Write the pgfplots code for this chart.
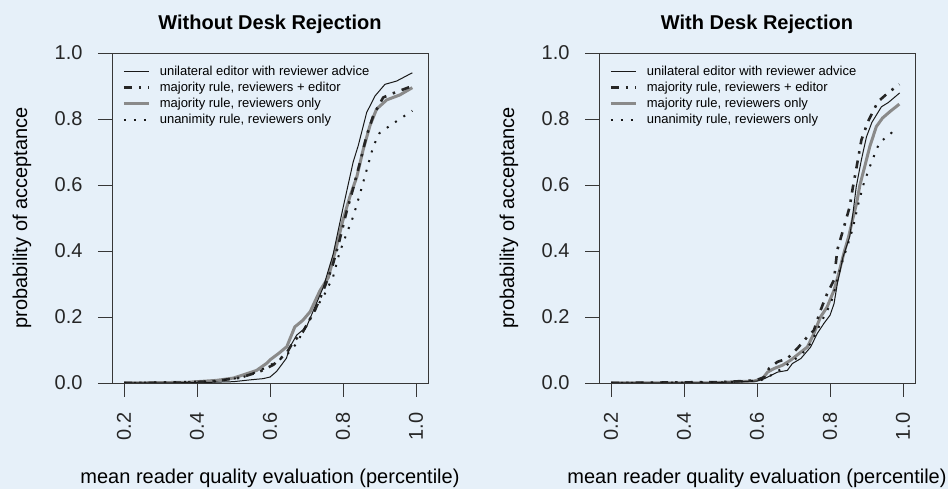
\documentclass[border=0pt]{standalone}
\usepackage{fontspec}
\setmainfont{Liberation Sans}
\usepackage{pgfplots}
\pgfplotsset{compat=1.18}
\usepackage{pgfplotstable}
\definecolor{bg}{RGB}{230,240,249}
\definecolor{axc}{RGB}{55,55,55}
\definecolor{grayl}{RGB}{138,138,138}

% ---------- Without desk rejection ----------
\pgfplotstableread{
x y
0.20 0
0.40 0.001
0.50 0.004
0.55 0.010
0.58 0.013
0.60 0.018
0.618 0.035
0.645 0.075
0.655 0.11
0.673 0.145
0.70 0.17
0.719 0.22
0.746 0.29
0.773 0.39
0.80 0.53
0.828 0.67
0.842 0.72
0.865 0.82
0.888 0.87
0.915 0.905
0.947 0.915
0.99 0.94
}\LuniA
\pgfplotstableread{
x y
0.20 0
0.36 0.001
0.45 0.006
0.518 0.016
0.573 0.035
0.609 0.055
0.645 0.09
0.664 0.125
0.69 0.155
0.723 0.22
0.746 0.28
0.77 0.35
0.79 0.43
0.81 0.52
0.828 0.59
0.847 0.67
0.865 0.75
0.883 0.81
0.91 0.865
0.93 0.875
0.99 0.90
}\LmajA
\pgfplotstableread{
x y
0.20 0
0.372 0.002
0.454 0.008
0.50 0.015
0.536 0.028
0.563 0.038
0.59 0.059
0.60 0.07
0.623 0.089
0.646 0.11
0.668 0.17
0.69 0.19
0.71 0.216
0.737 0.28
0.76 0.32
0.782 0.413
0.80 0.494
0.819 0.565
0.838 0.625
0.856 0.71
0.874 0.78
0.892 0.83
0.92 0.858
0.956 0.873
0.99 0.895
}\LmajB
\pgfplotstableread{
x y
0.20 0
0.454 0.005
0.527 0.018
0.573 0.038
0.609 0.059
0.645 0.084
0.673 0.12
0.70 0.175
0.728 0.23
0.75 0.27
0.773 0.322
0.79 0.393
0.81 0.453
0.828 0.504
0.847 0.575
0.865 0.646
0.883 0.717
0.90 0.757
0.929 0.78
0.956 0.80
0.99 0.825
}\LunaA

% ---------- With desk rejection ----------
\pgfplotstableread{
x y
0.20 0
0.46 0
0.60 0.006
0.62 0.013
0.638 0.023
0.656 0.033
0.683 0.038
0.697 0.059
0.72 0.074
0.747 0.109
0.765 0.15
0.783 0.18
0.80 0.205
0.811 0.24
0.82 0.30
0.836 0.383
0.854 0.443
0.863 0.515
0.872 0.595
0.886 0.676
0.90 0.746
0.915 0.79
0.941 0.837
0.96 0.85
0.991 0.879
}\RuniA
\pgfplotstableread{
x y
0.20 0
0.51 0.003
0.597 0.008
0.62 0.018
0.633 0.044
0.656 0.064
0.683 0.074
0.71 0.104
0.738 0.14
0.756 0.16
0.774 0.22
0.792 0.27
0.811 0.312
0.82 0.403
0.836 0.464
0.854 0.534
0.863 0.595
0.873 0.655
0.886 0.736
0.904 0.792
0.931 0.852
0.96 0.88
0.99 0.905
}\RmajA
\pgfplotstableread{
x y
0.20 0
0.46 0
0.592 0.006
0.615 0.013
0.629 0.033
0.647 0.044
0.67 0.054
0.692 0.069
0.715 0.089
0.738 0.109
0.756 0.15
0.774 0.2
0.792 0.23
0.811 0.281
0.824 0.332
0.838 0.393
0.851 0.443
0.863 0.5
0.873 0.545
0.882 0.6
0.895 0.655
0.909 0.716
0.927 0.777
0.944 0.803
0.965 0.823
0.99 0.845
}\RmajB
\pgfplotstableread{
x y
0.20 0
0.51 0.002
0.61 0.008
0.629 0.018
0.647 0.028
0.674 0.049
0.701 0.069
0.724 0.089
0.747 0.12
0.765 0.16
0.783 0.2
0.802 0.24
0.815 0.29
0.829 0.352
0.847 0.413
0.863 0.47
0.877 0.54
0.893 0.606
0.914 0.67
0.936 0.73
0.962 0.75
0.983 0.776
}\RunaA

\pgfplotsset{
  rstyle/.style={
    scale only axis, width=316pt, height=330pt,
    xmin=0.167, xmax=1.033, ymin=0, ymax=1,
    axis line style={axc, line width=0.9pt},
    tick style={axc, line width=0.9pt},
    major tick length=14pt, tick align=outside,
    xtick pos=lower, ytick pos=left,
    xtick={0.2,0.4,0.6,0.8,1.0}, xticklabels={0.2,0.4,0.6,0.8,1.0},
    ytick={0,0.2,0.4,0.6,0.8,1.0}, yticklabels={0.0,0.2,0.4,0.6,0.8,1.0},
    ticklabel style={font=\fontsize{20}{24}\selectfont, text=black!85},
    xticklabel style={rotate=90, anchor=east, xshift=-12pt},
    yticklabel style={xshift=-12pt},
    /pgf/number format/assume math mode=true,
    title style={font=\bfseries\fontsize{20}{24}\selectfont, at={(axis description cs:0.5,1)}, anchor=base, yshift=17pt},
    xlabel style={font=\fontsize{20}{24}\selectfont, at={(axis description cs:0.5,0)}, anchor=base, yshift=-101pt},
    ylabel style={font=\fontsize{20}{24}\selectfont, at={(axis description cs:-0.285,0.5)}, anchor=center, rotate=0},
    xlabel={mean reader quality evaluation (percentile)},
    ylabel={probability of acceptance},
    legend style={draw=none, fill=none, inner sep=0pt, at={(axis description cs:0.032,0.968)}, anchor=north west,
      font=\fontsize{13}{15}\selectfont, row sep=0pt,
      nodes={inner sep=1pt, text height=10.5pt, text depth=3.5pt}},
    legend cell align=left,
    legend image code/.code={\draw[#1] (0pt,0pt) -- (25pt,0pt); \path[draw=none,fill=none] (0pt,0pt) -- (35pt,0pt);},
  },
  sUni/.style={black!90, line width=1pt},
  sMajE/.style={black!85, line width=2.6pt, dash pattern=on 8pt off 7pt on 2.5pt off 7pt},
  sMajR/.style={grayl, line width=3pt},
  sUna/.style={black!90, line width=2pt, dash pattern=on 2pt off 8pt},
}

\begin{document}
\begin{tikzpicture}
\useasboundingbox (0,0) rectangle (948pt,489pt);
\fill[bg] (0,0) rectangle (948pt,489pt);

\begin{axis}[rstyle, at={(112pt,106pt)}, anchor=south west, title={Without Desk Rejection}]
\addlegendimage{sUni}\addlegendentry{unilateral editor with reviewer advice}
\addlegendimage{sMajE}\addlegendentry{majority rule, reviewers + editor}
\addlegendimage{sMajR}\addlegendentry{majority rule, reviewers only}
\addlegendimage{sUna}\addlegendentry{unanimity rule, reviewers only}
\addplot[sMajR, forget plot] table[x=x,y=y] {\LmajB};
\addplot[sUni, forget plot] table[x=x,y=y] {\LuniA};
\addplot[sMajE, forget plot] table[x=x,y=y] {\LmajA};
\addplot[sUna, forget plot] table[x=x,y=y] {\LunaA};
\end{axis}

\begin{axis}[rstyle, at={(599pt,106pt)}, anchor=south west, title={With Desk Rejection}]
\addlegendimage{sUni}\addlegendentry{unilateral editor with reviewer advice}
\addlegendimage{sMajE}\addlegendentry{majority rule, reviewers + editor}
\addlegendimage{sMajR}\addlegendentry{majority rule, reviewers only}
\addlegendimage{sUna}\addlegendentry{unanimity rule, reviewers only}
\addplot[sMajR, forget plot] table[x=x,y=y] {\RmajB};
\addplot[sUni, forget plot] table[x=x,y=y] {\RuniA};
\addplot[sMajE, forget plot] table[x=x,y=y] {\RmajA};
\addplot[sUna, forget plot] table[x=x,y=y] {\RunaA};
\end{axis}
\end{tikzpicture}
\end{document}
